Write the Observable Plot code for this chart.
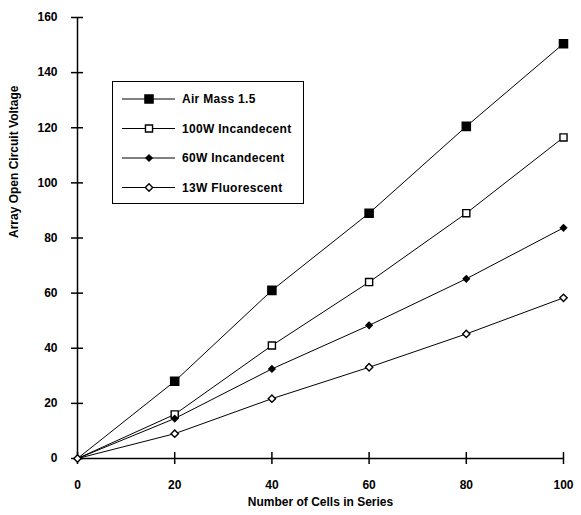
<!DOCTYPE html>
<html><head><meta charset="utf-8">
<script src="https://cdn.jsdelivr.net/npm/d3@7"></script>
<script src="https://cdn.jsdelivr.net/npm/@observablehq/plot@0.6"></script>
<style>
body{margin:0;background:#fff;}
#chart{position:relative;width:581px;height:515px;font-family:"Liberation Sans",Arial,sans-serif;}
#legend{position:absolute;left:112px;top:81px;width:192px;height:123px;border:1.5px solid #000;box-sizing:border-box;background:#fff;}
</style></head><body><div id="chart"><div id="legend"></div></div>
<script>
const cells = [0, 20, 40, 60, 80, 100];
const airMass = [0, 28, 61, 89, 120.5, 150.5];
const w100 = [0, 16, 41, 64, 89, 116.5];
const w60 = [0, 14.5, 32.5, 48.3, 65.2, 83.7];
const w13 = [0, 9, 21.7, 33.1, 45.2, 58.3];
const seriesNames = ["Air Mass 1.5", "100W Incandecent", "60W Incandecent", "13W Fluorescent"];
const xTicks = [0, 20, 40, 60, 80, 100];
const yTicks = [0, 20, 40, 60, 80, 100, 120, 140, 160];
const xTitle = "Number of Cells in Series";
const yTitle = "Array Open Circuit Voltage";

const seriesValues = [airMass, w100, w60, w13];
const markerStyle = [
  {symbol: "square", fill: "#000", r: 4.6},
  {symbol: "square", fill: "#fff", r: 4.0},
  {symbol: "diamond2", fill: "#000", r: 2.8},
  {symbol: "diamond2", fill: "#fff", r: 3.3}
];

const rows = [];
seriesNames.forEach((name, i) => cells.forEach((c, j) => rows.push({series: name, idx: i, cells: c, v: seriesValues[i][j]})));

const dotMarks = seriesNames.map((name, i) => Plot.dot(
  rows.filter(d => d.idx === i && (d.cells > 0 || i === seriesNames.length - 1)),
  {x: "cells", y: "v", symbol: markerStyle[i].symbol, r: markerStyle[i].r, fill: markerStyle[i].fill, stroke: "#000", strokeWidth: 1.4}
));

const plot = Plot.plot({
  width: 581, height: 515,
  marginLeft: 77, marginRight: 18, marginTop: 17, marginBottom: 57,
  style: {fontFamily: "'Liberation Sans', Arial, sans-serif", fontSize: "12px", fontWeight: "bold", background: "#fff", color: "#000"},
  x: {domain: [0, 100]},
  y: {domain: [0, 160]},
  marks: [
    Plot.ruleX([0], {strokeWidth: 1.5}),
    Plot.ruleY([0], {strokeWidth: 1.5}),
    Plot.axisX({ticks: xTicks, tickSize: 12, dy: -6, tickPadding: 16, strokeWidth: 1.5, label: null}),
    Plot.axisY({ticks: yTicks, tickSize: 12, dx: 6, tickPadding: 14, strokeWidth: 1.5, label: null}),
    Plot.line(rows, {x: "cells", y: "v", z: "series", stroke: "#000", strokeWidth: 1}),
    ...dotMarks,
    Plot.text([xTitle], {frameAnchor: "bottom", dy: 47, fontSize: 12, fontWeight: "bold"}),
    Plot.text([yTitle], {frameAnchor: "left", dx: -63, rotate: -90, fontSize: 12, fontWeight: "bold"})
  ]
});
document.getElementById("chart").prepend(plot);

// legend
const leg = d3.select("#legend").append("svg").attr("width", 189).attr("height", 120)
  .style("position", "absolute").style("left", "0px").style("top", "0px")
  .style("font-family", "'Liberation Sans', Arial, sans-serif").style("font-weight", "bold").style("font-size", "12px");
const symMap = {square: d3.symbolSquare, diamond2: d3.symbolDiamond2};
seriesNames.forEach((name, i) => {
  const y = 17 + i * 29.5;
  const g = leg.append("g").attr("transform", `translate(0,${y})`);
  g.append("line").attr("x1", 9).attr("x2", 62).attr("y1", 0).attr("y2", 0).attr("stroke", "#000").attr("stroke-width", 1);
  const m = markerStyle[i];
  g.append("path").attr("transform", "translate(36,0)")
    .attr("d", d3.symbol(symMap[m.symbol], Math.PI * m.r * m.r)())
    .attr("fill", m.fill).attr("stroke", "#000").attr("stroke-width", 1.4);
  g.append("text").attr("x", 69).attr("y", 0).attr("dy", "0.35em").style("letter-spacing", "0.3px").text(name);
});
</script>
</body></html>
